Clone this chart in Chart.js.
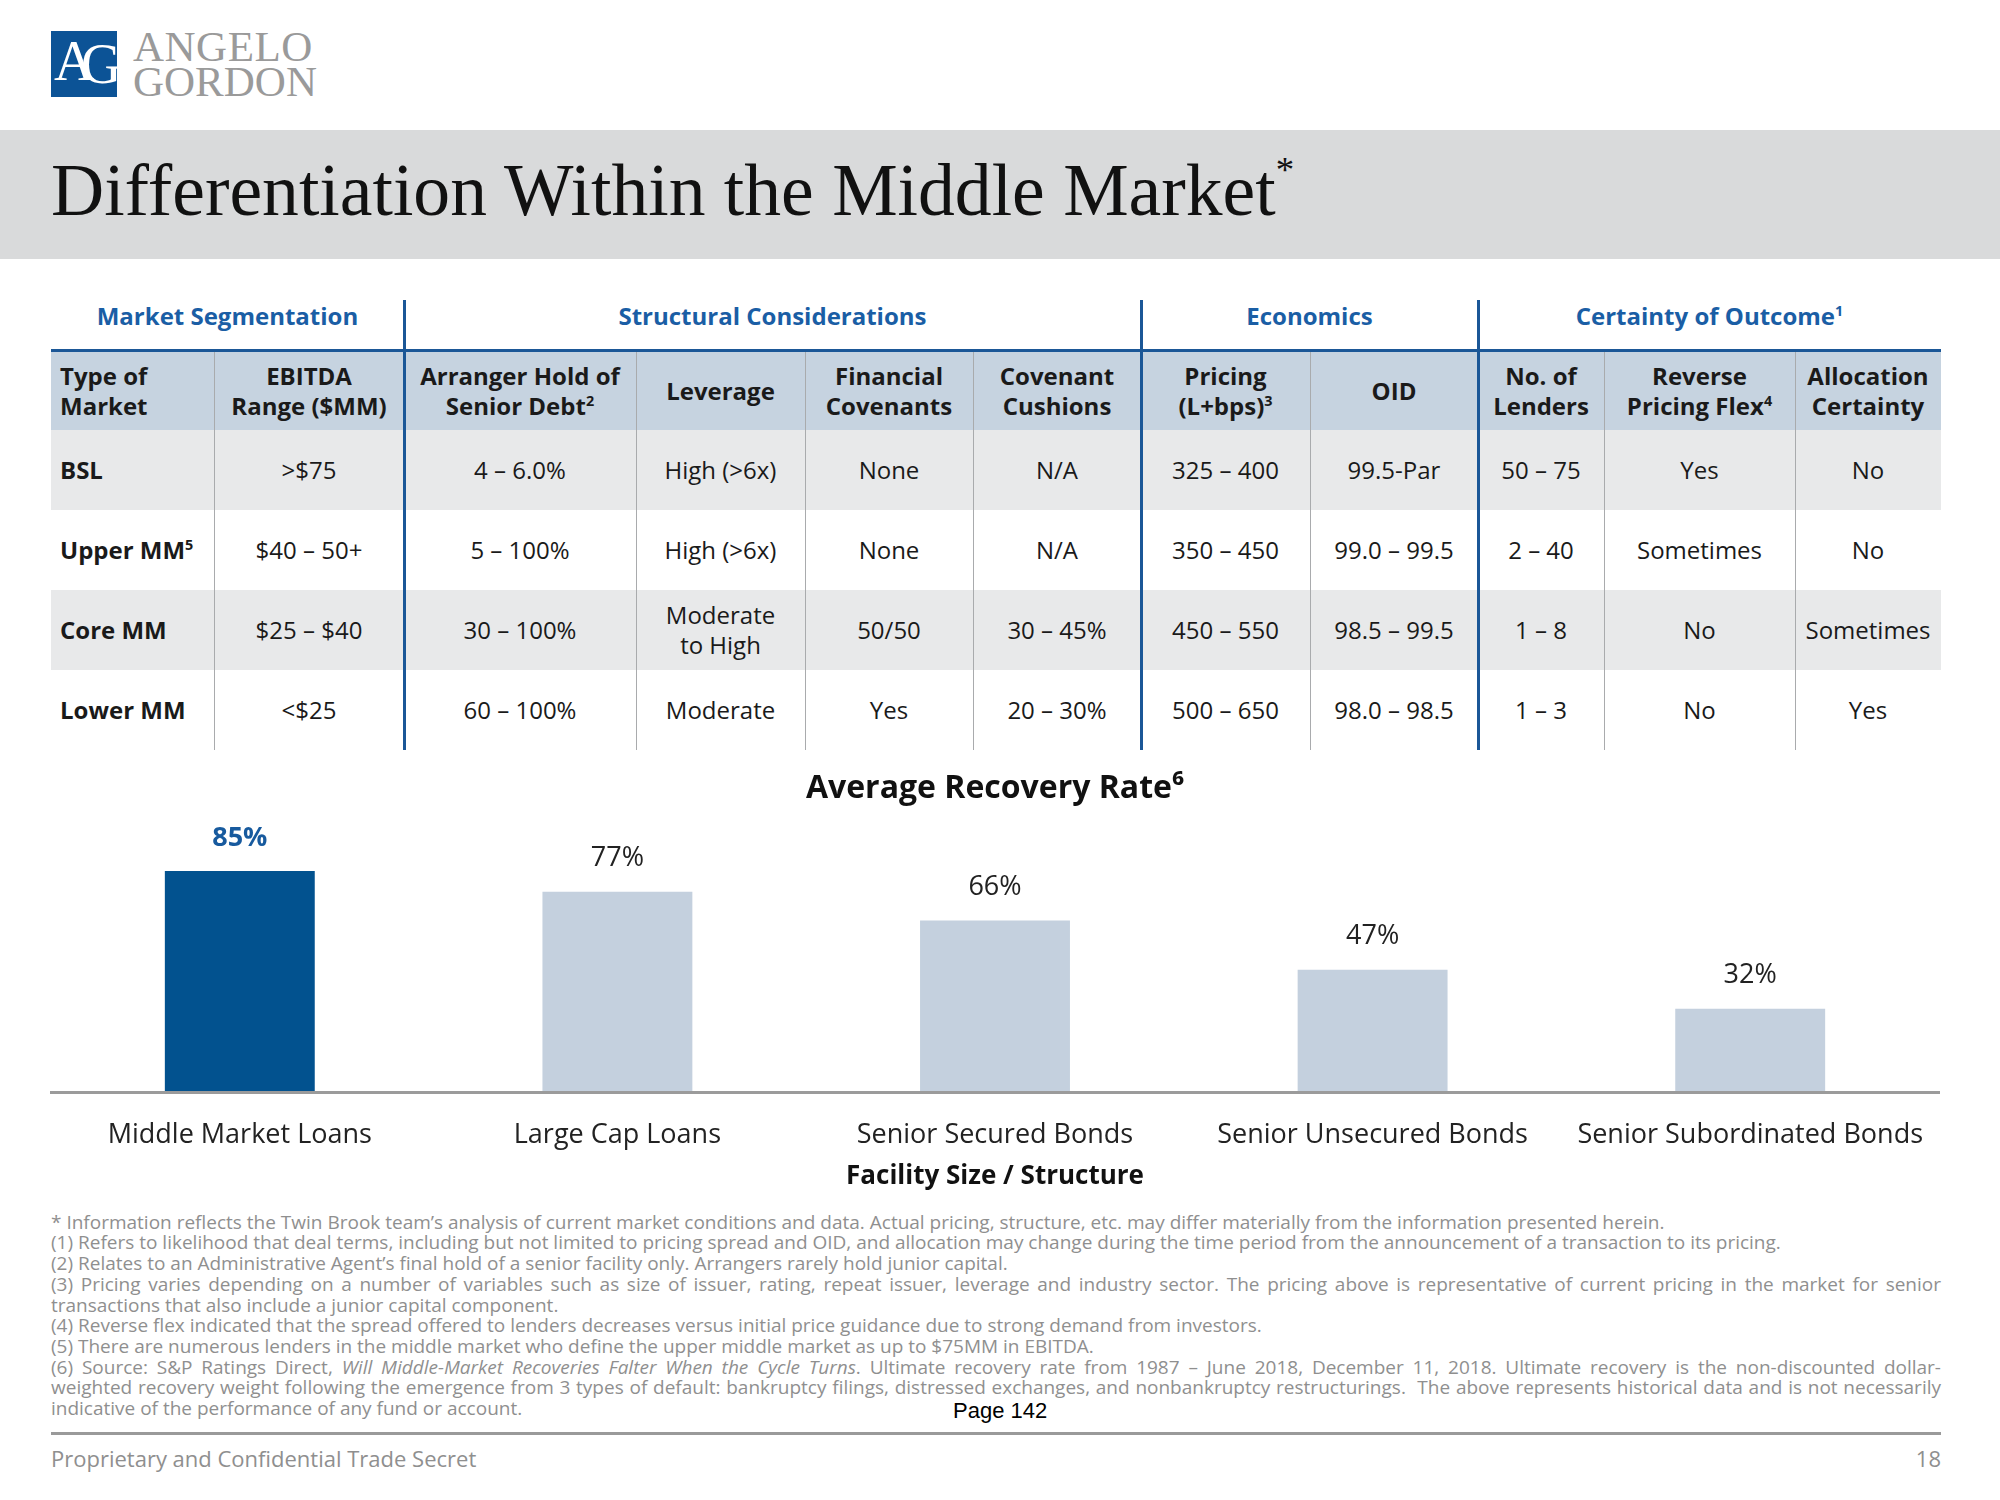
<!DOCTYPE html>
<html><head><meta charset="utf-8">
<script src="https://cdn.jsdelivr.net/npm/chart.js@4.4.0/dist/chart.umd.min.js"></script>
<style>
html,body{margin:0;padding:0;background:#fff;}
body{width:2000px;height:1500px;position:relative;overflow:hidden;font-family:'Open Sans',sans-serif;color:#1a1a1a;}
.abs{position:absolute;}
sup{font-size:0.6em;line-height:0;vertical-align:0.6em;}
.cell{position:absolute;display:flex;align-items:center;justify-content:center;text-align:center;line-height:30px;}
.fn{position:absolute;left:51px;width:1890px;font-size:19px;line-height:20.7px;color:#8f8f8f;white-space:nowrap;}
</style></head><body>
<div id="page"></div>
<canvas id="chart" width="2000" height="440" style="position:absolute;left:0;top:760px;"></canvas>
<script>
// ---------- data ----------
const groupHeaders = ["Market Segmentation", "Structural Considerations", "Economics", "Certainty of Outcome<sup>1</sup>"];
const groupSpans = [2, 4, 2, 3];
const columnHeaders = ["Type of<br>Market", "EBITDA<br>Range ($MM)", "Arranger Hold of<br>Senior Debt<sup>2</sup>", "Leverage",
  "Financial<br>Covenants", "Covenant<br>Cushions", "Pricing<br>(L+bps)<sup>3</sup>", "OID", "No. of<br>Lenders",
  "Reverse<br>Pricing Flex<sup>4</sup>", "Allocation<br>Certainty"];
const marketTypes = ["BSL", "Upper MM<sup>5</sup>", "Core MM", "Lower MM"];
const ebitdaRange = ["&gt;$75", "$40 – 50+", "$25 – $40", "&lt;$25"];
const arrangerHold = ["4 – 6.0%", "5 – 100%", "30 – 100%", "60 – 100%"];
const leverage = ["High (&gt;6x)", "High (&gt;6x)", "Moderate<br>to High", "Moderate"];
const financialCovenants = ["None", "None", "50/50", "Yes"];
const covenantCushions = ["N/A", "N/A", "30 – 45%", "20 – 30%"];
const pricing = ["325 – 400", "350 – 450", "450 – 550", "500 – 650"];
const oid = ["99.5-Par", "99.0 – 99.5", "98.5 – 99.5", "98.0 – 98.5"];
const numLenders = ["50 – 75", "2 – 40", "1 – 8", "1 – 3"];
const reverseFlex = ["Yes", "Sometimes", "No", "No"];
const allocationCertainty = ["No", "No", "Sometimes", "Yes"];

const categories = ["Middle Market Loans", "Large Cap Loans", "Senior Secured Bonds", "Senior Unsecured Bonds", "Senior Subordinated Bonds"];
const recoveryRates = [85, 77, 66, 47, 32];
const highlightIndex = 0;

const footnotes = [
  "* Information reflects the Twin Brook team’s analysis of current market conditions and data. Actual pricing, structure, etc. may differ materially from the information presented herein.",
  "(1) Refers to likelihood that deal terms, including but not limited to pricing spread and OID, and allocation may change during the time period from the announcement of a transaction to its pricing.",
  "(2) Relates to an Administrative Agent’s final hold of a senior facility only. Arrangers rarely hold junior capital.",
  "(3) Pricing varies depending on a number of variables such as size of issuer, rating, repeat issuer, leverage and industry sector. The pricing above is representative of current pricing in the market for senior",
  "transactions that also include a junior capital component.",
  "(4) Reverse flex indicated that the spread offered to lenders decreases versus initial price guidance due to strong demand from investors.",
  "(5) There are numerous lenders in the middle market who define the upper middle market as up to $75MM in EBITDA.",
  "(6) Source: S&amp;P Ratings Direct, <i>Will Middle-Market Recoveries Falter When the Cycle Turns</i>. Ultimate recovery rate from 1987 – June 2018, December 11, 2018. Ultimate recovery is the non-discounted dollar-",
  "weighted recovery weight following the emergence from 3 types of default: bankruptcy filings, distressed exchanges, and nonbankruptcy restructurings.&nbsp; The above represents historical data and is not necessarily",
  "indicative of the performance of any fund or account."
];
const justifiedLines = [3, 7, 8];

// ---------- layout ----------
const page = document.getElementById('page');
function add(style, html, cls) {
  const d = document.createElement('div');
  d.className = cls || 'abs';
  d.style.cssText = style;
  if (html !== undefined) d.innerHTML = html;
  page.appendChild(d);
  return d;
}

// logo
add('left:51px;top:31px;width:66px;height:66px;background:#0c5396;');
add('left:54px;top:33px;font-family:"Liberation Serif",serif;font-size:56px;line-height:56px;color:#fff;', 'A');
add('left:81px;top:36px;font-family:"Liberation Serif",serif;font-size:56px;line-height:56px;color:#fff;', 'G');
add('left:133px;top:25px;font-family:"Liberation Serif",serif;font-size:43px;line-height:44px;color:#9a9a9a;letter-spacing:0.5px;', 'ANGELO');
add('left:133px;top:60px;font-family:"Liberation Serif",serif;font-size:43px;line-height:44px;color:#9a9a9a;', 'GORDON');

// title band
add('left:0;top:130px;width:2000px;height:129px;background:#d9dadb;');
add('left:51px;top:154px;font-family:"Liberation Serif",serif;font-size:73.6px;line-height:73px;color:#111;white-space:nowrap;', 'Differentiation Within the Middle Market<sup style="font-size:0.5em;vertical-align:0.9em">*</sup>');

// table
const colEdges = [51, 214, 404, 636, 805, 973, 1141, 1310, 1478, 1604, 1795, 1941];
const rowEdges = [351, 430, 510, 590, 670, 750];
const bodyColumns = [marketTypes, ebitdaRange, arrangerHold, leverage, financialCovenants, covenantCushions, pricing, oid, numLenders, reverseFlex, allocationCertainty];

add(`left:${colEdges[0]}px;top:${rowEdges[0]}px;width:${colEdges[11]-colEdges[0]}px;height:${rowEdges[1]-rowEdges[0]}px;background:#c6d3e0;`);
for (let r = 0; r < 4; r++) {
  if (r % 2 === 0) add(`left:${colEdges[0]}px;top:${rowEdges[r+1]}px;width:${colEdges[11]-colEdges[0]}px;height:${rowEdges[r+2]-rowEdges[r+1]}px;background:#e8e9ea;`);
}
const groupBoundaryIdx = [];
{ let acc = 0; for (let g = 0; g < groupSpans.length - 1; g++) { acc += groupSpans[g]; groupBoundaryIdx.push(acc); } }
for (let c = 1; c < colEdges.length - 1; c++) {
  if (groupBoundaryIdx.includes(c)) continue;
  add(`left:${colEdges[c]}px;top:350px;width:1px;height:400px;background:#a9abad;`);
}
{ let start = 0;
  groupHeaders.forEach((g, i) => {
    const x0 = colEdges[start], x1 = colEdges[start + groupSpans[i]];
    add(`left:${x0}px;top:296px;width:${x1-x0}px;height:40px;font-weight:bold;font-size:24px;color:#1a5ea5;`, '<div>' + g + '</div>', 'cell');
    start += groupSpans[i];
  });
}
columnHeaders.forEach((h, c) => {
  const x0 = colEdges[c], x1 = colEdges[c+1];
  const st = c === 0 ? 'justify-content:flex-start;text-align:left;padding-left:9px;box-sizing:border-box;' : '';
  add(`left:${x0}px;top:${rowEdges[0]}px;width:${x1-x0}px;height:${rowEdges[1]-rowEdges[0]}px;font-weight:bold;font-size:24px;${st}`, '<div>' + h + '</div>', 'cell');
});
bodyColumns.forEach((col, c) => {
  col.forEach((v, r) => {
    const x0 = colEdges[c], x1 = colEdges[c+1];
    const st = c === 0 ? 'justify-content:flex-start;text-align:left;padding-left:9px;box-sizing:border-box;font-weight:bold;' : '';
    add(`left:${x0}px;top:${rowEdges[r+1]}px;width:${x1-x0}px;height:${rowEdges[r+2]-rowEdges[r+1]}px;font-size:24px;${st}`, '<div>' + v + '</div>', 'cell');
  });
});
add(`left:${colEdges[0]}px;top:349px;width:${colEdges[11]-colEdges[0]}px;height:3px;background:#1b5797;`);
groupBoundaryIdx.forEach(c => add(`left:${colEdges[c]-1}px;top:300px;width:3px;height:450px;background:#1b5797;`));

// footnotes
footnotes.forEach((t, i) => {
  const d = add(`top:${1211.7 + i*20.7}px;`, '<span>' + t + '</span>', 'fn');
  if (justifiedLines.includes(i)) {
    const span = d.firstChild;
    const natural = span.getBoundingClientRect().width;
    const spaces = (span.textContent.match(/[ \u00a0]/g) || []).length;
    if (spaces > 0) span.style.wordSpacing = ((1890 - natural) / spaces) + 'px';
  }
});
add('left:953px;top:1398px;font-family:"Liberation Sans",Arial,sans-serif;font-size:22px;line-height:26px;color:#000;', 'Page 142');

// footer
add('left:51px;top:1432px;width:1890px;height:3px;background:#9a9a9a;');
add('left:51px;top:1444px;font-size:22px;line-height:28px;color:#8f8f8f;', 'Proprietary and Confidential Trade Secret');
add('left:1841px;top:1444px;width:100px;text-align:right;font-size:22px;line-height:28px;color:#8f8f8f;', '18');

// ---------- chart ----------
Chart.defaults.font.family = "'Open Sans', sans-serif";
const valueLabels = {
  id: 'valueLabels',
  afterDatasetsDraw(chart) {
    const ctx = chart.ctx;
    const meta = chart.getDatasetMeta(0);
    meta.data.forEach((bar, i) => {
      ctx.save();
      const hl = i === highlightIndex;
      ctx.font = (hl ? 'bold ' : '') + "27px 'Open Sans', sans-serif";
      ctx.fillStyle = hl ? '#175a9e' : '#222';
      ctx.textAlign = 'center';
      ctx.textBaseline = 'middle';
      ctx.fillText(recoveryRates[i] + '%', bar.x, bar.y - 33);
      ctx.restore();
    });
  }
};
new Chart(document.getElementById('chart').getContext('2d'), {
  type: 'bar',
  data: {
    labels: categories,
    datasets: [{
      data: recoveryRates,
      backgroundColor: recoveryRates.map((v, i) => i === highlightIndex ? '#02528f' : '#c4d0de'),
      borderWidth: 0,
      barPercentage: 0.397,
      categoryPercentage: 1
    }]
  },
  options: {
    responsive: false,
    animation: false,
    devicePixelRatio: 1,
    layout: { padding: { left: 51, right: 61, top: 0, bottom: 7.4 } },
    plugins: {
      legend: { display: false },
      tooltip: { enabled: false },
      title: { display: true, text: 'Average Recovery Rate⁶', color: '#111', font: { size: 32, weight: 'bold' }, padding: { top: 9.4, bottom: 24.2 } }
    },
    scales: {
      x: {
        grid: { display: false, drawTicks: false },
        border: { display: true, color: '#9b9b9b', width: 3, z: 1 },
        ticks: { color: '#222', font: { size: 27 }, padding: 27, maxRotation: 0, autoSkip: false },
        title: { display: true, text: 'Facility Size / Structure', color: '#111', font: { size: 26, weight: 'bold' }, padding: { top: -17, bottom: 0 } }
      },
      y: { display: false, min: 0, max: 100 }
    }
  },
  plugins: [valueLabels]
});
</script>
</body></html>
